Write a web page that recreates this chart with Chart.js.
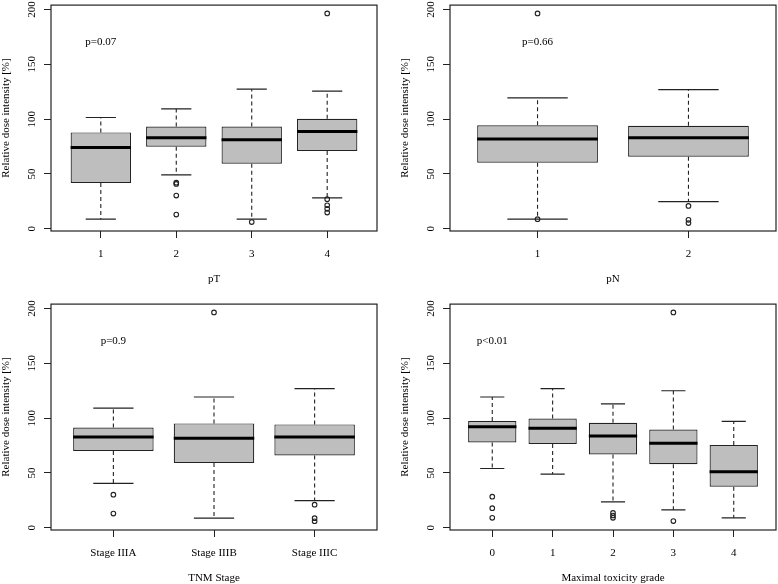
<!DOCTYPE html>
<html>
<head>
<meta charset="utf-8">
<script src="https://cdn.jsdelivr.net/npm/chart.js@4/dist/chart.umd.min.js"></script>
<style>
  body { margin: 0; background: #fff; }
  #page { position: relative; width: 778px; height: 584px; overflow: hidden; background: #fff; }
  .panel { position: absolute; width: 389px; height: 292px; }
</style>
</head>
<body>
<div id="page">
  <div class="panel" style="left:0;top:0"><canvas id="c1" width="389" height="292"></canvas></div>
  <div class="panel" style="left:399px;top:0"><canvas id="c2" width="389" height="292"></canvas></div>
  <div class="panel" style="left:0;top:299px"><canvas id="c3" width="389" height="292"></canvas></div>
  <div class="panel" style="left:399px;top:299px"><canvas id="c4" width="389" height="292"></canvas></div>
</div>
<script>
// shared y ticks
var yTicks = [0, 50, 100, 150, 200];

// pT
var ptCats = ['1', '2', '3', '4'];
var ptLow  = [8.8, 49.1, 8.8, 28.2];
var ptQ1   = [41.8, 74.8, 59.4, 70.9];
var ptMed  = [74.2, 83.0, 81.2, 88.8];
var ptQ3   = [87.9, 93.3, 93.3, 100.3];
var ptHigh = [101.5, 109.4, 127.3, 125.5];
var ptOut  = [[], [42.1, 40.9, 30.3, 13.0], [6.1], [196.4, 27, 21.5, 18.2, 14.8]];

// pN
var pnCats = ['1', '2'];
var pnLow  = [8.8, 24.8];
var pnQ1   = [60.3, 65.8];
var pnMed  = [81.8, 83.0];
var pnQ3   = [94.5, 93.9];
var pnHigh = [119.4, 127.0];
var pnOut  = [[8.8, 196.4], [20.9, 8.2, 5.2]];

// TNM stage
var tnmCats = ['Stage IIIA', 'Stage IIIB', 'Stage IIIC'];
var tnmLow  = [40.5, 8.8, 24.8];
var tnmQ1   = [70.1, 59.2, 65.9];
var tnmMed  = [82.8, 81.6, 82.8];
var tnmQ3   = [91.5, 95.2, 94.3];
var tnmHigh = [109.1, 119.3, 126.9];
var tnmOut  = [[30.2, 13.0], [196.4], [21.1, 8.8, 6.0]];

// maximal toxicity grade
var toxCats = ['0', '1', '2', '3', '4'];
var toxLow  = [54.1, 49.0, 23.6, 16.3, 9.1];
var toxQ1   = [77.9, 76.4, 66.8, 58.0, 37.5];
var toxMed  = [92.1, 90.9, 83.7, 77.0, 51.1];
var toxQ3   = [97.3, 99.7, 95.8, 89.7, 75.5];
var toxHigh = [119.3, 126.9, 113.0, 125.0, 97.0];
var toxOut  = [[28.4, 17.9, 9.1], [], [13.6, 11.2, 9.1], [196.4, 6.1], []];

Chart.defaults.font.family = "'Liberation Serif', 'DejaVu Serif', serif";
Chart.defaults.font.size = 11;
Chart.defaults.color = '#000';

var ink = '#222';

// box around the plot region and the p value label
var framePlugin = {
    id: 'frame',
    afterDraw: function (chart, args, opts) {
        var ctx = chart.ctx;
        var a = chart.chartArea;
        ctx.save();
        ctx.strokeStyle = ink;
        ctx.lineWidth = 1.2;
        ctx.strokeRect(a.left, a.top, a.right - a.left, a.bottom - a.top);
        ctx.fillStyle = '#000';
        ctx.font = "11px 'Liberation Serif'";
        ctx.textAlign = 'center';
        ctx.textBaseline = 'middle';
        ctx.fillText(opts.text, chart.scales.x.getPixelForValue(1), chart.scales.y.getPixelForValue(170));
        ctx.restore();
    }
};

function makePanel(id, cats, low, q1, med, q3, high, out, xTitle, pText) {
    var n = cats.length;
    var xs = cats.map(function (c, i) { return i + 1; });
    var pad = n * 0.04;

    var boxes = [], meds = [], whisk = [], caps = [], outs = [];
    xs.forEach(function (x, i) {
        boxes.push({x: x, y: [q1[i], q3[i]]});
        meds.push({x: x - 0.4, y: med[i]}, {x: x + 0.4, y: med[i]}, {x: x, y: null});
        whisk.push({x: x, y: q3[i]}, {x: x, y: high[i]}, {x: x, y: null},
                   {x: x, y: q1[i]}, {x: x, y: low[i]}, {x: x, y: null});
        caps.push({x: x - 0.2, y: high[i]}, {x: x + 0.2, y: high[i]}, {x: x, y: null},
                  {x: x - 0.2, y: low[i]}, {x: x + 0.2, y: low[i]}, {x: x, y: null});
        out[i].forEach(function (v) { outs.push({x: x, y: v}); });
    });

    var config = {
        type: 'bar',
        data: {
            datasets: [
                {
                    type: 'scatter', data: outs, pointStyle: 'circle', pointRadius: 2.3,
                    pointBorderWidth: 1.1, pointBorderColor: ink, pointBackgroundColor: 'rgba(0,0,0,0)'
                },
                {
                    type: 'line', data: meds, borderColor: '#000', borderWidth: 3,
                    pointRadius: 0, spanGaps: false, borderCapStyle: 'butt'
                },
                {
                    type: 'bar', data: boxes, backgroundColor: '#bebebe', borderColor: ink,
                    borderWidth: 1.2, borderSkipped: false, barPercentage: 0.8, categoryPercentage: 1
                },
                {
                    type: 'line', data: whisk, borderColor: ink, borderWidth: 1.1,
                    borderDash: [4, 3], pointRadius: 0, spanGaps: false
                },
                {
                    type: 'line', data: caps, borderColor: ink, borderWidth: 1.2,
                    pointRadius: 0, spanGaps: false
                }
            ]
        },
        options: {
            responsive: false,
            animation: false,
            layout: { padding: { left: 0, right: 12, top: 4.6, bottom: 0 } },
            plugins: {
                legend: { display: false },
                tooltip: { enabled: false },
                frame: { text: pText }
            },
            scales: {
                x: {
                    type: 'linear',
                    min: 0.5 - pad,
                    max: n + 0.5 + pad,
                    offset: false,
                    afterBuildTicks: function (s) {
                        s.ticks = xs.map(function (v) { return {value: v}; });
                    },
                    afterFit: function (s) { s.height = 61; },
                    ticks: {
                        autoSkip: false, maxRotation: 0, padding: 10,
                        callback: function (v, i) { return cats[i]; }
                    },
                    grid: { offset: false, drawOnChartArea: false, tickLength: 7, color: ink, lineWidth: 1 },
                    border: { display: false },
                    title: { display: true, text: xTitle, padding: { top: 0, bottom: 6 } }
                },
                y: {
                    type: 'linear',
                    min: -2,
                    max: 204,
                    afterBuildTicks: function (s) {
                        s.ticks = yTicks.map(function (v) { return {value: v}; });
                    },
                    afterFit: function (s) {
                        s.width = 51;
                        s.paddingTop = 0;
                        s.paddingBottom = 0;
                    },
                    ticks: { minRotation: 90, maxRotation: 90, crossAlign: 'center', padding: 4 },
                    grid: { drawOnChartArea: false, tickLength: 7, color: ink, lineWidth: 1 },
                    border: { display: false },
                    title: { display: true, text: 'Relative dose intensity [%]', padding: { top: 0, bottom: 0 } }
                }
            }
        },
        plugins: [framePlugin]
    };

    var ctx = document.getElementById(id).getContext('2d');
    return new Chart(ctx, config);
}

makePanel('c1', ptCats, ptLow, ptQ1, ptMed, ptQ3, ptHigh, ptOut, 'pT', 'p=0.07');
makePanel('c2', pnCats, pnLow, pnQ1, pnMed, pnQ3, pnHigh, pnOut, 'pN', 'p=0.66');
makePanel('c3', tnmCats, tnmLow, tnmQ1, tnmMed, tnmQ3, tnmHigh, tnmOut, 'TNM Stage', 'p=0.9');
makePanel('c4', toxCats, toxLow, toxQ1, toxMed, toxQ3, toxHigh, toxOut, 'Maximal toxicity grade', 'p<0.01');
</script>
</body>
</html>
